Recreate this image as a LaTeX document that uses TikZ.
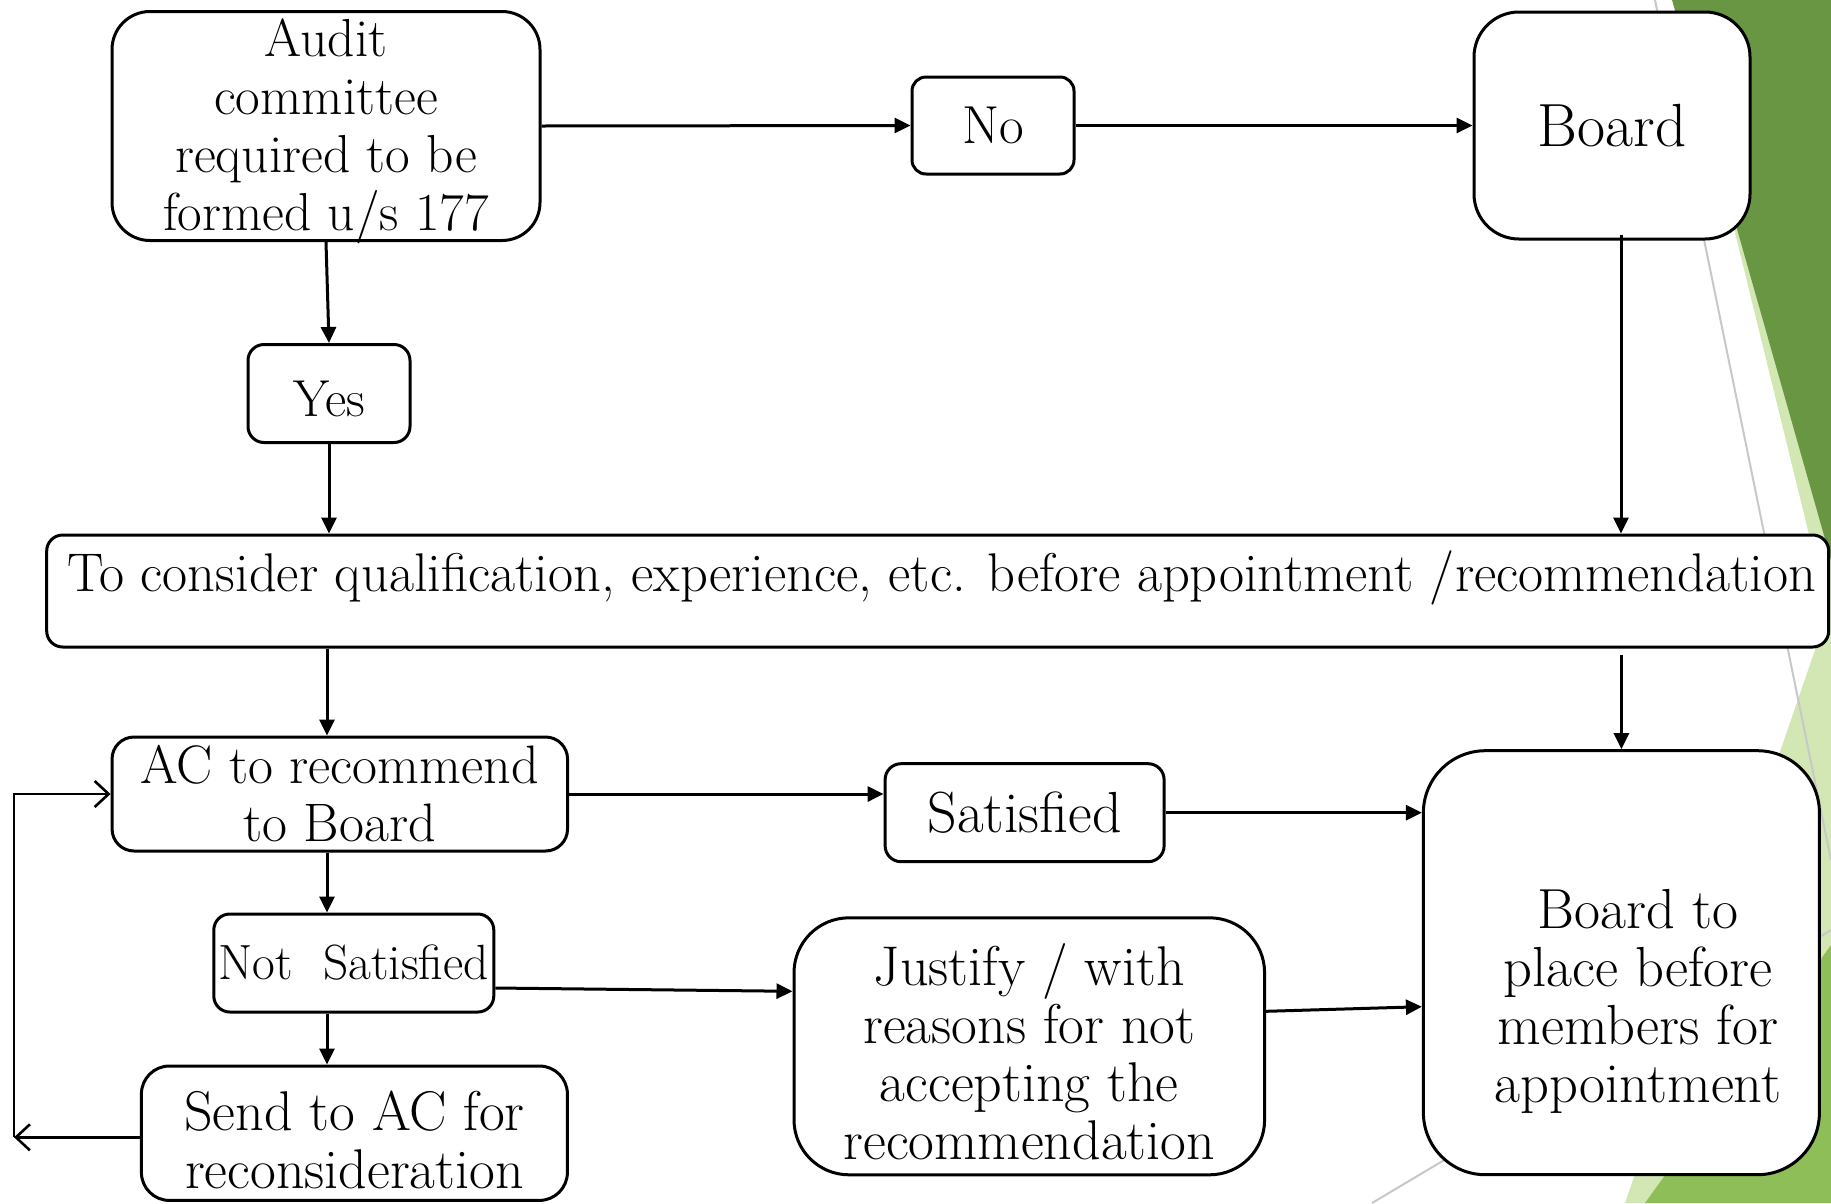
\documentclass[tikz,border=0pt]{standalone}
\usepackage{fontspec}
\usetikzlibrary{arrows.meta,calc}
\definecolor{dkgreen}{RGB}{104,150,66}
\definecolor{palegreen}{RGB}{210,231,180}
\definecolor{midgreen}{RGB}{141,190,88}
\definecolor{thingray}{RGB}{200,200,200}
\tikzset{
  fs/.style={font=\fontsize{#1}{58}\selectfont},
  box/.style={draw, line width=3pt, align=center, inner sep=0pt, fill=white, fs=55},
  txt/.style={align=center, inner sep=0pt, fs=55},
  arr/.style={line width=3pt, -{Triangle[length=16pt,width=15pt]}},
  openarr/.style={line width=2.6pt, -{Straight Barb[length=14pt,width=26pt]}},
}
\begin{document}
\begin{tikzpicture}[x=1pt,y=-1pt]
\useasboundingbox (0,0) rectangle (1831,1203);
\fill[white] (0,0) rectangle (1831,1203);
% background decoration
\fill[palegreen] (1678,0) -- (1831,0) -- (1831,1203) -- (1625,1203) -- (1828,612) -- cycle;
\fill[dkgreen] (1672,0) -- (1831,0) -- (1831,560) -- cycle;
\fill[midgreen] (1831,945) -- (1831,1203) -- (1645,1203) -- cycle;
\draw[thingray, line width=2pt] (1655,0) -- (1831,860);
\draw[thingray, line width=2pt] (1372,1203) -- (1831,930);

% boxes
\node[box, minimum width=428pt, minimum height=229pt, rounded corners=38pt] (audit) at (326,126) {};
\node[txt, fs=53.5] (auditT) at (326,131) {Audit\\committee\\required to be\\formed u/s 177};
\node[box, fs=53.5, minimum width=162pt, minimum height=97pt, rounded corners=14pt] (no) at (993,125.5) {No};
\node[box, fs=61, minimum width=276pt, minimum height=227pt, rounded corners=45pt] (board) at (1612,125.5) {Board};
\node[box, minimum width=162pt, minimum height=98pt, rounded corners=16pt] (yes) at (329,393.5) {};
\node[txt, fs=52] (yesT) at (329,399) {Yes};
\node[box, minimum width=1782pt, minimum height=112pt, rounded corners=16pt] (cons) at (937.7,591) {};
\node[txt, fs=54.5] (consT) at (941.8,578)
  {To consider qualification, experience, etc. before appointment /recommendation};
\node[box, fs=54.2, minimum width=455.5pt, minimum height=114pt, rounded corners=22pt] (ac) at (339.8,794)
  {AC to recommend\\to Board};
\node[box, fs=58, minimum width=279pt, minimum height=98pt, rounded corners=16pt] (sat) at (1024.6,812.7) {Satisfied};
\node[box, minimum width=396pt, minimum height=424pt, rounded corners=62pt] (board2) at (1621.4,962.7) {};
\node[txt, fs=56.5] (board2T) at (1638,1001) {Board to\\place before\\members for\\appointment};
\node[box, fs=49.5, minimum width=280pt, minimum height=98pt, rounded corners=16pt] (ns) at (353.8,963) {Not\ \ Satisfied};
\node[box, minimum width=470.6pt, minimum height=257pt, rounded corners=55pt] (just) at (1029.3,1046.3) {};
\node[txt, fs=56] (justT) at (1029.3,1052) {Justify / with\\reasons for not\\accepting the\\recommendation};
\node[box, minimum width=426pt, minimum height=134.4pt, rounded corners=28pt] (send) at (354.4,1133.2) {};
\node[txt, fs=56] (sendT) at (354.4,1140) {Send to AC for\\reconsideration};

% connectors
\coordinate (colL) at (327,0);
\coordinate (loopB) at (14,1137.3);
\draw[arr] (audit.south) -- (yes.north);
\draw[arr] (yes.south) -- (yes.south |- cons.north);
\draw[arr] (audit.east) -- (no.west);
\draw[arr] (no.east) -- (board.west);
\draw[arr] ($(board.south)+(9,-6)$) -- ($(board.south |- cons.north)+(9,0)$);
\draw[arr] (cons.south -| colL) -- (ac.north -| colL);
\draw[arr] ($(cons.south -| board2.north)+(0,6)$) -- (board2.north);
\draw[arr] (ac.east) -- (ac.east -| sat.west);
\draw[arr] (sat.east) -- (sat.east -| board2.west);
\draw[arr] (ac.south -| colL) -- (ns.north -| colL);
\draw[arr] (ns.south -| colL) -- (send.north -| colL);
\draw[arr] ($(ns.east)+(0,25)$) -- ($(just.west)+(0,-55)$);
\draw[arr] ($(just.east)+(0,-35)$) -- ($(board2.west)+(0,44)$);
\draw[openarr] (send.west |- loopB) -- (loopB);
\draw[openarr] (loopB) -- (loopB |- ac.west) -- (ac.west);
\end{tikzpicture}
\end{document}
